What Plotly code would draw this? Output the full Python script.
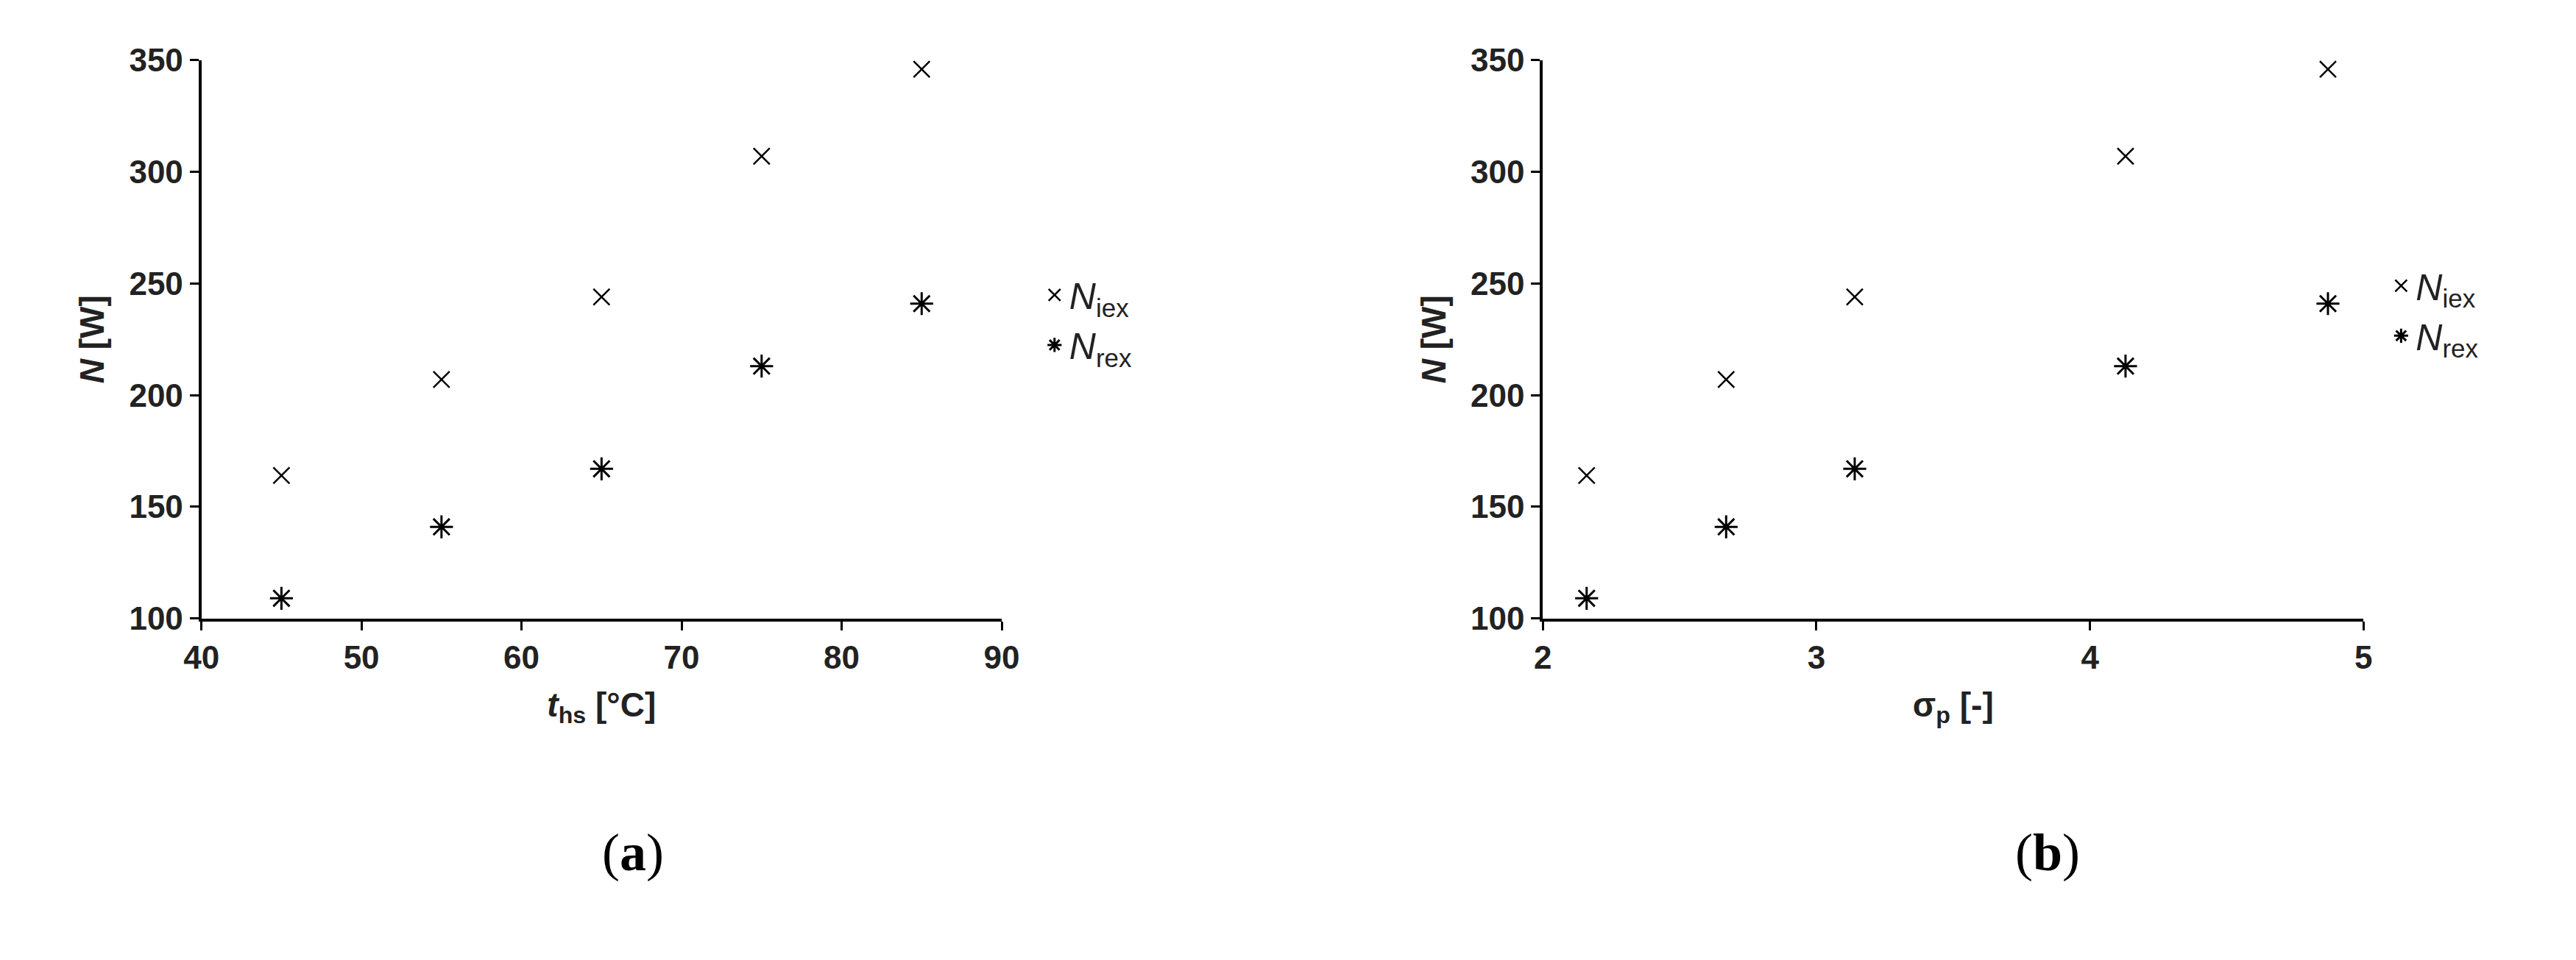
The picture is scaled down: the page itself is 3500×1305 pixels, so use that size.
import plotly.graph_objects as go

t_hs = [45, 55, 65, 75, 85]
sigma_p = [2.16, 2.67, 3.14, 4.13, 4.87]
N_iex = [164, 207, 244, 307, 346]
N_rex = [109, 141, 167, 213, 241]

fig = go.Figure()
mk_x = dict(symbol="x-thin-open", size=22, color="black", line=dict(width=2.5, color="black"))
mk_a = dict(symbol="asterisk-open", size=26, color="black", line=dict(width=3, color="black"))
lbl_i = "<i>N</i><sub>iex</sub>"
lbl_r = "<i>N</i><sub>rex</sub>"
fig.add_trace(go.Scatter(x=t_hs, y=N_iex, mode="markers", marker=mk_x, name=lbl_i, legend="legend", xaxis="x", yaxis="y"))
fig.add_trace(go.Scatter(x=t_hs, y=N_rex, mode="markers", marker=mk_a, name=lbl_r, legend="legend", xaxis="x", yaxis="y"))
fig.add_trace(go.Scatter(x=sigma_p, y=N_iex, mode="markers", marker=mk_x, name=lbl_i, legend="legend2", xaxis="x2", yaxis="y2"))
fig.add_trace(go.Scatter(x=sigma_p, y=N_rex, mode="markers", marker=mk_a, name=lbl_r, legend="legend2", xaxis="x2", yaxis="y2"))

tf = dict(family="Liberation Sans Narrow, Liberation Sans, Arial", size=44, color="#222", weight="bold")
ttf = dict(family="Liberation Sans, Arial", size=46, color="#222")
ax = dict(showgrid=False, zeroline=False, showline=True, linewidth=4, linecolor="black",
          ticks="outside", ticklen=12, tickwidth=3, tickcolor="black", tickfont=tf)
lg = dict(font=dict(family="Liberation Sans, Arial", size=50, color="#222"), bgcolor="rgba(0,0,0,0)",
          itemsizing="trace", tracegroupgap=14, xanchor="left", yanchor="middle")

fig.update_layout(
    width=3500, height=1305, paper_bgcolor="white", plot_bgcolor="white",
    margin=dict(l=0, r=0, t=0, b=0), showlegend=True,
    xaxis=dict(ax, domain=[0.07, 0.385], range=[40, 90], dtick=10, anchor="y",
               title=dict(text="<b><i>t</i><sub>hs</sub> [°C]</b>", font=ttf, standoff=25)),
    yaxis=dict(ax, domain=[0.357, 0.961], range=[100, 350], dtick=50, anchor="x",
               title=dict(text="<b><i>N</i> [W]</b>", font=ttf, standoff=20)),
    xaxis2=dict(ax, domain=[0.598, 0.921], range=[2, 5], dtick=1, anchor="y2",
                title=dict(text="<b>σ<sub>p</sub> [-]</b>", font=ttf, standoff=25)),
    yaxis2=dict(ax, domain=[0.357, 0.961], range=[100, 350], dtick=50, anchor="x2",
                title=dict(text="<b><i>N</i> [W]</b>", font=ttf, standoff=20)),
    legend=dict(lg, x=0.4, y=0.68),
    legend2=dict(lg, x=0.93, y=0.69),
    annotations=[
        dict(text="(<b>a</b>)", x=0.227, y=0.07, xref="paper", yref="paper", showarrow=False,
             font=dict(family="Liberation Serif, serif", size=72, color="black")),
        dict(text="(<b>b</b>)", x=0.81, y=0.07, xref="paper", yref="paper", showarrow=False,
             font=dict(family="Liberation Serif, serif", size=72, color="black")),
    ],
)
fig.write_html("out.html")
